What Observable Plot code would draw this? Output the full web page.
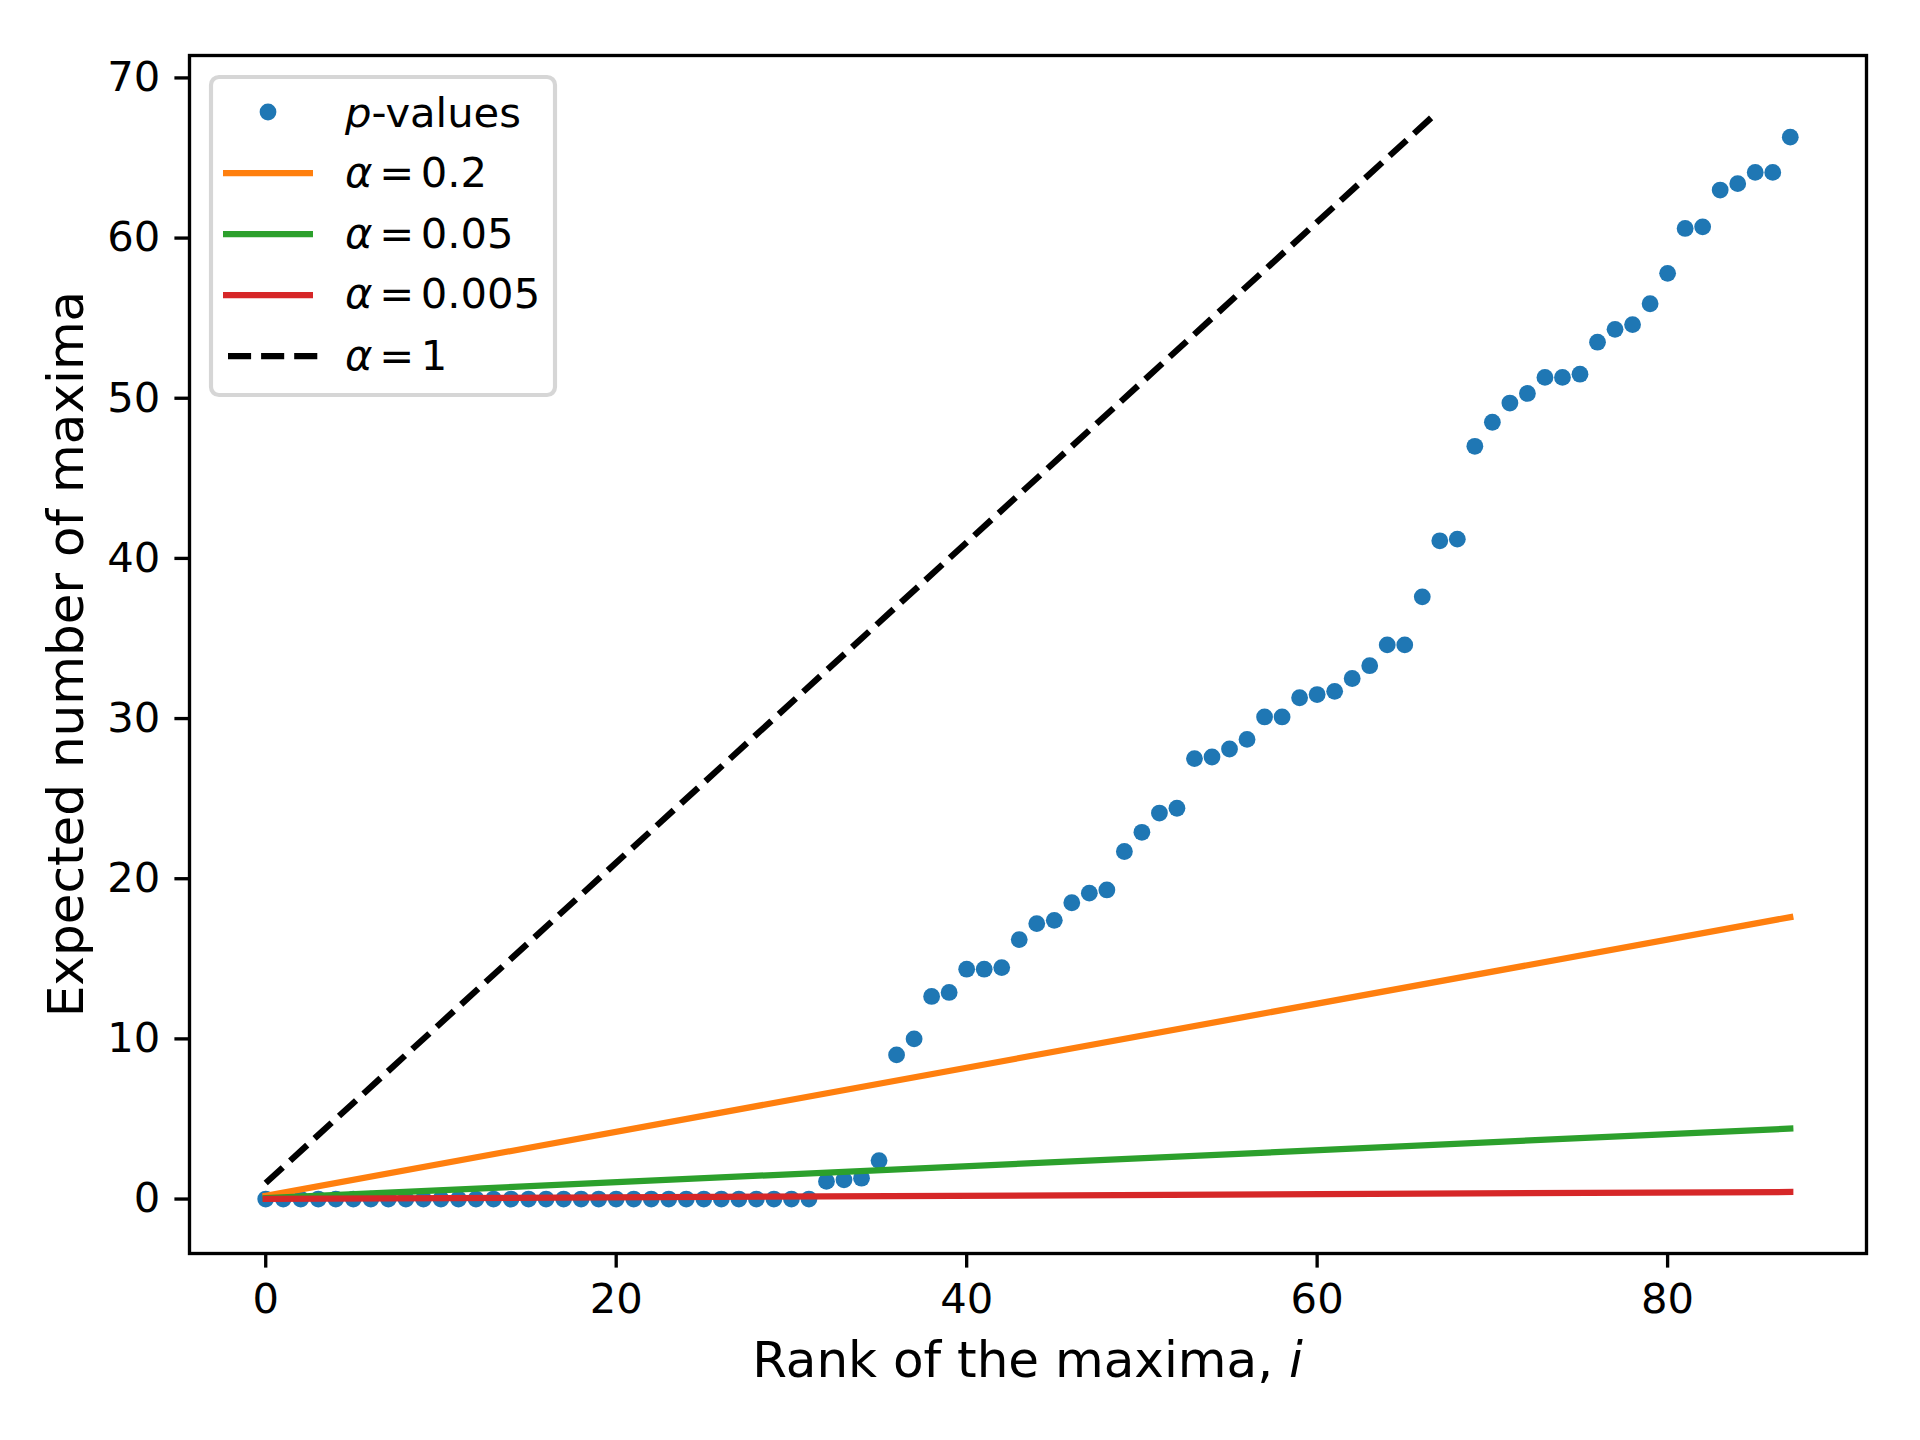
<!DOCTYPE html>
<html>
<head>
<meta charset="utf-8">
<script src="https://cdn.jsdelivr.net/npm/d3@7"></script>
<script src="https://cdn.jsdelivr.net/npm/@observablehq/plot@0.6"></script>
<style>
  html, body { margin: 0; padding: 0; background: #ffffff; }
  #chart { position: relative; width: 1920px; height: 1440px; }
</style>
</head>
<body>
<div id="chart"></div>
<script>
// ---- data ----
const pValues = [
  0, 0, 0, 0, 0, 0, 0, 0, 0, 0,
  0, 0, 0, 0, 0, 0, 0, 0, 0, 0,
  0, 0, 0, 0, 0, 0, 0, 0, 0, 0,
  0, 0, 1.1, 1.2, 1.3, 2.4, 9.0, 10.0, 12.65, 12.9,
  14.35, 14.35, 14.45, 16.2, 17.2, 17.4, 18.5, 19.1, 19.3, 21.7,
  22.9, 24.1, 24.4, 27.5, 27.6, 28.1, 28.7, 30.1, 30.1, 31.3,
  31.5, 31.7, 32.5, 33.3, 34.6, 34.6, 37.6, 41.1, 41.2, 47.0,
  48.5, 49.7, 50.3, 51.3, 51.3, 51.5, 53.5, 54.3, 54.6, 55.9,
  57.8, 60.6, 60.7, 63.0, 63.4, 64.1, 64.1, 66.3
];
const alphaLabels = ["0.2", "0.05", "0.005", "1"];
const alphaColors = ["#ff7f0e", "#2ca02c", "#d62728", "#000000"];
const lineStartRank = [0, 0, 0, 0];
const lineEndRank = [87, 87, 87, 66.6];
const lineStartValue = [0.2, 0.05, 0.005, 1];
const lineEndValue = [17.6, 4.4, 0.44, 67.6];
const xTicks = [0, 20, 40, 60, 80];
const yTicks = [0, 10, 20, 30, 40, 50, 60, 70];
const xLabelText = "Rank of the maxima, ";
const xLabelVar = "i";
const yLabelText = "Expected number of maxima";
const pointLegendVar = "p";
const pointLegendText = "-values";

// ---- tables for Plot ----
const points = pValues.map((v, i) => ({rank: i, value: v}));
const segments = [];
alphaLabels.forEach((a, k) => {
  segments.push({alpha: a, rank: lineStartRank[k], value: lineStartValue[k]});
  segments.push({alpha: a, rank: lineEndRank[k], value: lineEndValue[k]});
});
const solidSegments = segments.filter(d => d.alpha !== "1");
const dashedSegments = segments.filter(d => d.alpha === "1");

const FONT = "DejaVu Sans";
const LW = 6.25;
const DASH = "23.1,10";

const chart = Plot.plot({
  width: 1920,
  height: 1440,
  marginLeft: 189,
  marginRight: 54,
  marginTop: 55,
  marginBottom: 187,
  style: {fontFamily: FONT, background: "#ffffff", color: "#000000", overflow: "visible"},
  x: {domain: [-4.35, 91.35]},
  y: {domain: [-3.4, 71.4]},
  color: {domain: alphaLabels, range: alphaColors},
  marks: [
    Plot.dot(points, {x: "rank", y: "value", r: 8.4, fill: "#1f77b4", stroke: null}),
    Plot.line(solidSegments, {x: "rank", y: "value", z: "alpha", stroke: "alpha",
      strokeWidth: LW, strokeLinecap: "square"}),
    Plot.line(dashedSegments, {x: "rank", y: "value", stroke: "#000000",
      strokeWidth: LW, strokeDasharray: DASH, strokeLinecap: "butt"}),
    Plot.frame({stroke: "#000000", strokeWidth: 3.33}),
    Plot.axisX(xTicks, {tickSize: 14.6, tickPadding: 15.5, strokeWidth: 3.33,
      fontSize: 41.7, label: null, fill: "#000000"}),
    Plot.axisY(yTicks, {tickSize: 14.6, tickPadding: 14.6, strokeWidth: 3.33,
      fontSize: 41.7, label: null, fill: "#000000"})
  ]
});

document.getElementById("chart").appendChild(chart);
const svg = d3.select(chart);

// ---- axis labels ----
const xl = svg.append("text")
  .attr("x", (189 + 1866) / 2).attr("y", 1377)
  .attr("text-anchor", "middle")
  .attr("font-family", FONT).attr("font-size", 50).attr("fill", "#000");
xl.append("tspan").text(xLabelText);
xl.append("tspan").attr("font-style", "italic").text(xLabelVar);

svg.append("text")
  .attr("transform", "translate(83," + ((55 + 1253) / 2) + ") rotate(-90)")
  .attr("text-anchor", "middle")
  .attr("font-family", FONT).attr("font-size", 50).attr("fill", "#000")
  .text(yLabelText);

// ---- legend ----
const lg = svg.append("g").attr("font-family", FONT).attr("font-size", 41.7)
  .attr("text-anchor", "start");
lg.append("rect")
  .attr("x", 211).attr("y", 77).attr("width", 344).attr("height", 318)
  .attr("rx", 8).attr("ry", 8)
  .attr("fill", "#ffffff").attr("fill-opacity", 0.8)
  .attr("stroke", "#d6d6d6").attr("stroke-width", 4.17);

const rowY = [112, 173, 234, 295, 356];
const rowBase = [127, 187, 248, 308, 370];
// p-values row
lg.append("circle").attr("cx", 268).attr("cy", rowY[0]).attr("r", 8.4).attr("fill", "#1f77b4");
const t0 = lg.append("text").attr("x", 345).attr("y", rowBase[0]).attr("fill", "#000")
  .attr("text-anchor", "start");
t0.append("tspan").attr("font-style", "italic").text(pointLegendVar);
t0.append("tspan").text(pointLegendText);

alphaLabels.forEach((a, k) => {
  const y = rowY[k + 1];
  const ln = lg.append("line")
    .attr("x1", 223).attr("x2", 313).attr("y1", y).attr("y2", y)
    .attr("stroke", alphaColors[k]).attr("stroke-width", LW);
  if (a === "1") ln.attr("stroke-dasharray", DASH).attr("x1", 228).attr("x2", 318);
  const t = lg.append("text").attr("x", 345).attr("y", rowBase[k + 1]).attr("fill", "#000")
    .attr("text-anchor", "start");
  t.append("tspan").attr("font-style", "italic").text("α");
  t.append("tspan").attr("dx", 6.7).text("=");
  t.append("tspan").attr("dx", 6.7).text(a);
});
</script>
</body>
</html>
